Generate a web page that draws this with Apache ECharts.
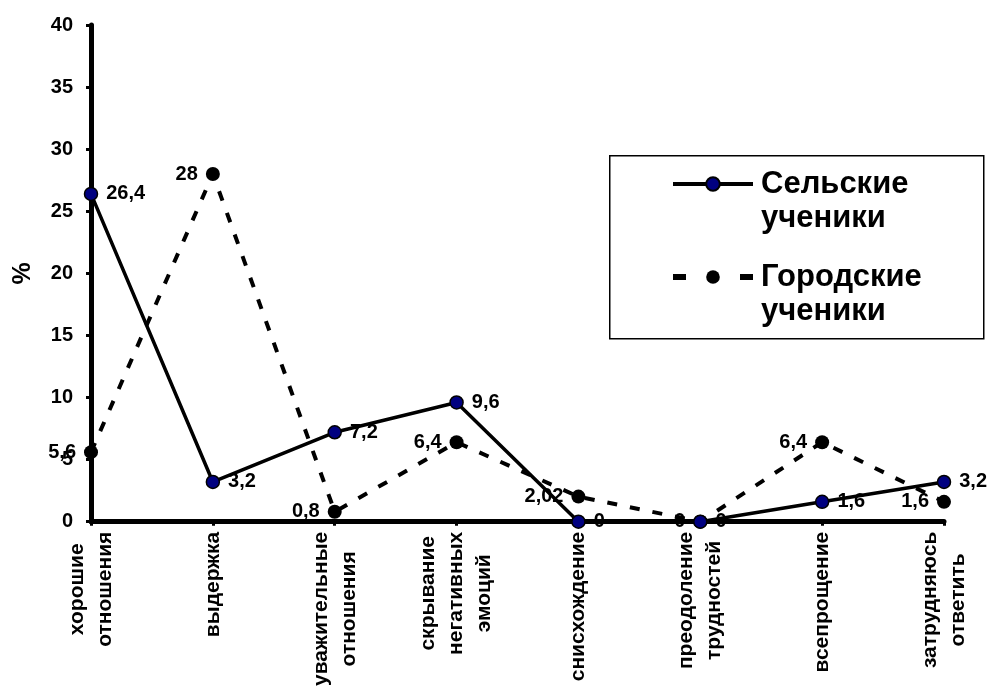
<!DOCTYPE html>
<html><head><meta charset="utf-8">
<script src="https://cdn.jsdelivr.net/npm/echarts@6/dist/echarts.min.js"></script>
<style>html,body{margin:0;padding:0;background:#fff}#c{width:994px;height:689px}</style>
</head><body><div id="c"></div>
<script>
var categories = ['хорошие\nотношения', 'выдержка', 'уважительные\nотношения', 'скрывание\nнегативных\nэмоций', 'снисхождение', 'преодоление\nтрудностей', 'всепрощение', 'затрудняюсь\nответить'];
var rural = [26.4, 3.2, 7.2, 9.6, 0, 0, 1.6, 3.2];
var urban = [5.6, 28, 0.8, 6.4, 2.02, 0, 6.4, 1.6];
var yTicks = [0, 5, 10, 15, 20, 25, 30, 35, 40];
var seriesNames = ['Сельские\nученики', 'Городские\nученики'];

var FONT = '"Liberation Sans", Arial, sans-serif';
function fmt(p){ return String(p.value).replace('.', ','); }
function catFmt(v){ return v.split('\n').map(function(s){ return '{c|' + s + '}'; }).join('\n'); }
function legFmt(n){ return '{e| }\n' + n.split('\n').map(function(s){ return '{a|' + s + '}'; }).join('\n'); }

var LH = 34;
var chart = echarts.init(document.getElementById('c'));
chart.setOption({
  backgroundColor: '#fff',
  animation: false,
  grid: {left: 91, top: 25, right: 50, bottom: 166, containLabel: false},
  graphic: [{
    type: 'rect', left: 609, top: 155, z: 0,
    shape: {width: 374, height: 183},
    style: {fill: '#fff', stroke: '#000', lineWidth: 1.5}
  }],
  legend: {
    orient: 'vertical',
    left: 670, top: 184 - LH * 1.5,
    padding: 0,
    itemWidth: 80, itemHeight: 17, itemGap: 93 - 3 * LH,
    formatter: legFmt,
    textStyle: {fontFamily: FONT, fontWeight: 'bold', fontSize: 31, color: '#000', lineHeight: LH,
      rich: {
        a: {fontFamily: FONT, fontWeight: 'bold', fontSize: 31, color: '#000', lineHeight: LH, padding: [0, 0, 0, 3]},
        e: {fontSize: 31, lineHeight: LH}
      }},
    data: [
      {name: seriesNames[0], lineStyle: {width: 4}},
      {name: seriesNames[1], lineStyle: {width: 6, type: [13, 54]}}
    ]
  },
  xAxis: {
    type: 'category', boundaryGap: false, data: categories,
    axisLine: {lineStyle: {color: '#000', width: 5}},
    axisTick: {show: true, length: 4, alignWithLabel: true, lineStyle: {color: '#000', width: 3}},
    axisLabel: {rotate: 90, interval: 0, margin: 10, formatter: catFmt,
      fontFamily: FONT, fontWeight: 'bold', fontSize: 21, color: '#000', lineHeight: 28,
      rich: {c: {align: 'center', fontFamily: FONT, fontWeight: 'bold', fontSize: 21, color: '#000', lineHeight: 28}}},
    splitLine: {show: false}
  },
  yAxis: {
    type: 'value', min: yTicks[0], max: yTicks[yTicks.length-1], interval: 5,
    name: '%', nameLocation: 'middle', nameGap: 55, nameRotate: 90,
    nameTextStyle: {fontFamily: FONT, fontWeight: 'bold', fontSize: 25, color: '#000'},
    axisLine: {show: true, lineStyle: {color: '#000', width: 5}},
    axisTick: {show: true, length: 5, lineStyle: {color: '#000', width: 3}},
    axisLabel: {margin: 18, fontFamily: FONT, fontWeight: 'bold', fontSize: 20, color: '#000'},
    splitLine: {show: false}
  },
  series: [
    {
      name: seriesNames[1], type: 'line', data: urban, z: 2,
      symbol: 'circle', symbolSize: 14,
      lineStyle: {color: '#000', width: 4, type: [10, 13]},
      itemStyle: {color: '#000', borderColor: '#000', borderWidth: 0},
      label: {show: true, position: 'left', distance: 8, formatter: fmt, fontFamily: FONT, fontWeight: 'bold', fontSize: 20, color: '#000'}
    },
    {
      name: seriesNames[0], type: 'line', data: rural, z: 3,
      symbol: 'circle', symbolSize: 13,
      lineStyle: {color: '#000', width: 3.5, type: 'solid'},
      itemStyle: {color: '#000080', borderColor: '#000', borderWidth: 1.5},
      label: {show: true, position: 'right', distance: 8, formatter: fmt, fontFamily: FONT, fontWeight: 'bold', fontSize: 20, color: '#000'}
    }
  ]
});
</script></body></html>
